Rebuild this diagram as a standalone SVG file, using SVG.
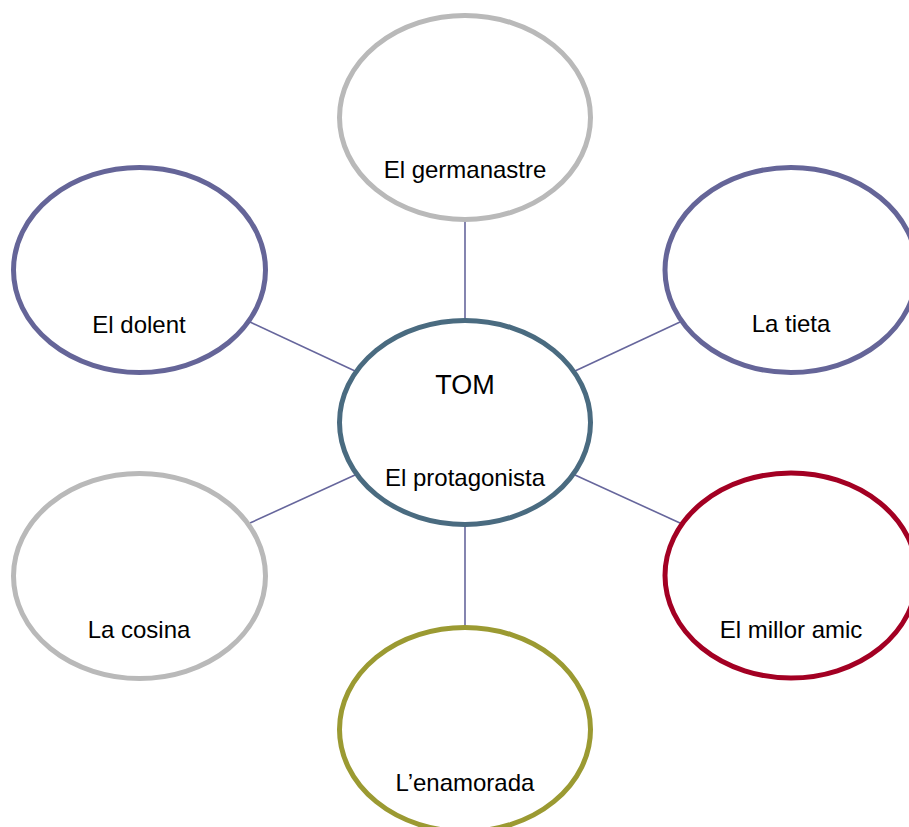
<svg xmlns="http://www.w3.org/2000/svg" width="909" height="827" viewBox="0 0 909 827">
<style>
.n{fill:#ffffff;stroke-width:5}
.purple{stroke:#656598}
.gray{stroke:#b9b9b9}
.blue{stroke:#4a6b80}
.red{stroke:#a30023}
.olive{stroke:#9b9a32}
.t{font-family:"Liberation Sans",Arial,sans-serif;font-size:24px;fill:#000;text-anchor:middle}
.big{font-size:27px}
.c{stroke:#66669c;stroke-width:1.6;fill:none}
</style>
<rect width="909" height="827" fill="#ffffff"/>
<g id="connectors">
<line class="c" x1="465" y1="219" x2="465" y2="321"/>
<line class="c" x1="465" y1="524" x2="465" y2="628"/>
<line class="c" x1="250" y1="322" x2="355" y2="371"/>
<line class="c" x1="680" y1="322" x2="575" y2="371"/>
<line class="c" x1="355" y1="475" x2="250" y2="523"/>
<line class="c" x1="575" y1="475" x2="680" y2="523"/>
</g>
<g id="germanastre">
<ellipse class="n gray" cx="465" cy="117.5" rx="125.5" ry="102"/>
<text class="t" x="465" y="178">El germanastre</text>
</g>
<g id="dolent">
<ellipse class="n purple" cx="139.5" cy="270" rx="126" ry="102.5"/>
<text class="t" x="139" y="332.5">El dolent</text>
</g>
<g id="tieta">
<ellipse class="n purple" cx="791" cy="270" rx="126" ry="102.5"/>
<text class="t" x="791" y="332">La tieta</text>
</g>
<g id="tom">
<ellipse class="n blue" cx="465" cy="422.5" rx="125.5" ry="102"/>
<text class="t big" x="465" y="394">TOM</text>
<text class="t" x="465" y="485.5">El protagonista</text>
</g>
<g id="cosina">
<ellipse class="n gray" cx="139.5" cy="576" rx="126" ry="102.5"/>
<text class="t" x="139" y="638">La cosina</text>
</g>
<g id="millor-amic">
<ellipse class="n red" cx="791" cy="575.5" rx="126" ry="102.5"/>
<text class="t" x="791" y="638">El millor amic</text>
</g>
<g id="enamorada">
<ellipse class="n olive" cx="465" cy="729.5" rx="125.5" ry="102"/>
<text class="t" x="465" y="791">L’enamorada</text>
</g>
</svg>
